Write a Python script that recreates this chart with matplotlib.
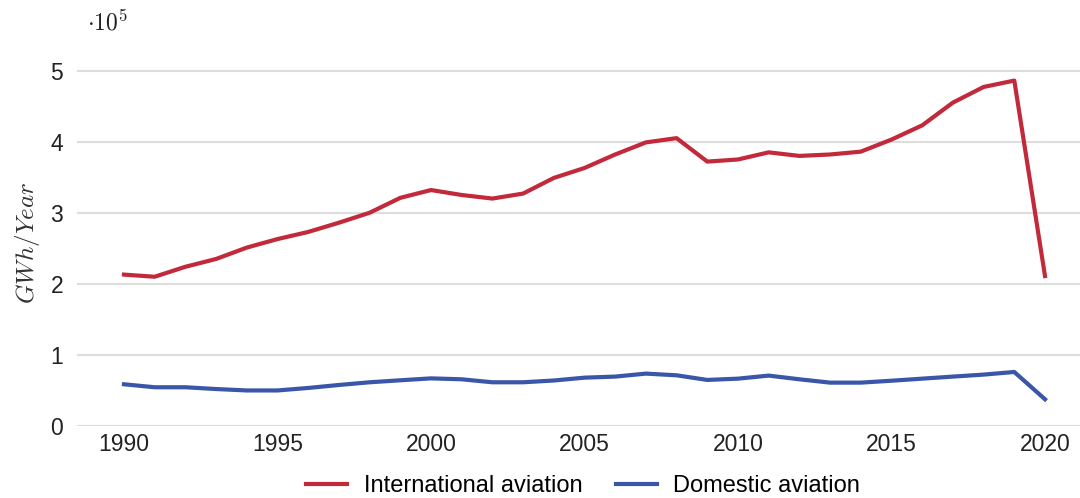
import matplotlib.pyplot as plt
import matplotlib.ticker as mticker
import numpy as np

plt.rcParams['font.family'] = ['Liberation Sans', 'DejaVu Sans']
plt.rcParams['mathtext.fontset'] = 'cm'

years = list(range(1990, 2021))

# GWh per year
international = [213000, 210000, 224000, 235000, 251000, 263000, 273000, 286000, 300000, 321000,
                 332000, 325000, 320000, 327000, 349000, 363000, 382000, 399000, 405000, 372000,
                 375000, 385000, 380000, 382000, 386000, 403000, 423000, 455000, 477000, 486000,
                 211000]
domestic = [58700, 54500, 54500, 52000, 50000, 50000, 53500, 57700, 61500, 64300,
            67000, 65700, 61500, 61500, 64000, 68000, 69500, 73700, 71300, 64800,
            66600, 70900, 65700, 61000, 61000, 63700, 66600, 69500, 72300, 76000,
            37600]

fig = plt.figure(figsize=(10.8, 4.98), dpi=100)
ax = fig.add_axes([0.0713, 0.1446, 0.9287, 0.735])

red = '#c22a3b'
blue = '#3a56a8'
ax.plot(years, international, color=red, lw=3, label='International aviation')
ax.plot(years, domestic, color=blue, lw=3, label='Domestic aviation')

ax.set_xlim(1988.47, 2021.14)
ax.set_ylim(0, 5.15e5)
ax.set_xticks([1990, 1995, 2000, 2005, 2010, 2015, 2020])
ax.set_yticks(np.arange(0, 6) * 1e5)
ax.yaxis.set_major_formatter(mticker.FuncFormatter(lambda v, p: f'{v / 1e5:g}'))
ax.tick_params(length=0, labelsize=16.5, colors='#222222')
ax.tick_params(axis='x', pad=5)
ax.tick_params(axis='y', pad=10)
ax.grid(axis='y', color='#dddddd', lw=1.5)
ax.set_axisbelow(True)
for s in ax.spines.values():
    s.set_visible(False)

ax.set_ylabel(r'$GWh/Year$', fontsize=18, color='#333333', labelpad=6)
fig.text(0.081, 0.93, r'$\cdot 10^5$', fontsize=17, color='#222222', ha='left', va='bottom')

fig.legend(loc='center', bbox_to_anchor=(0.54, 0.024), ncol=2, frameon=False,
           fontsize=17, handlelength=1.75, columnspacing=1.4, handletextpad=0.7)

fig.savefig('out.png', dpi=100)
